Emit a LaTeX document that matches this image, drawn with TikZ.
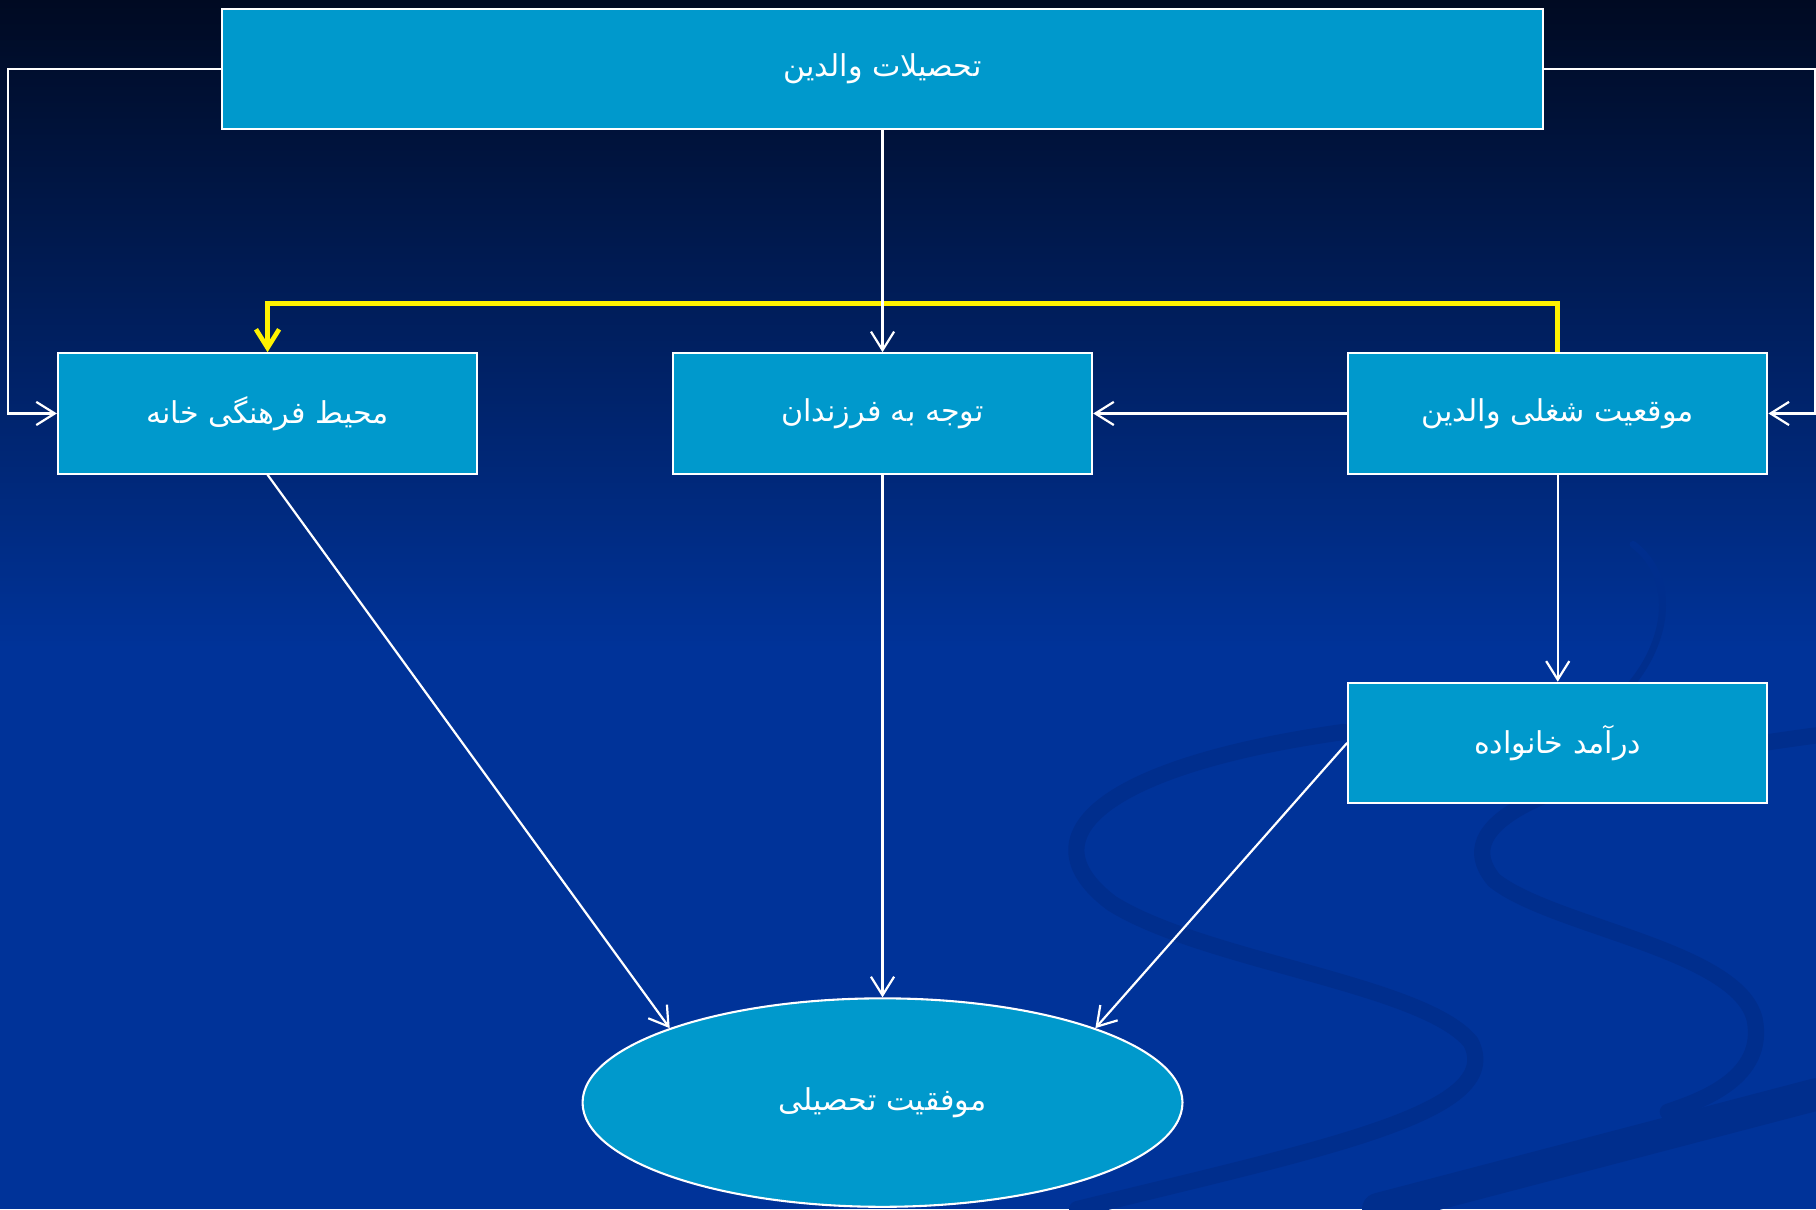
\documentclass[tikz,border=0pt]{standalone}
\usepackage{fontspec}
\newfontfamily\farsi[Script=Arabic]{DejaVu Sans}
\TeXXeTstate=1
\usetikzlibrary{shapes.geometric,arrows.meta}
\definecolor{boxblue}{RGB}{0,153,204}
\definecolor{deepblue}{RGB}{0,51,153}
\definecolor{nightblue}{RGB}{0,10,34}
\definecolor{swirlblue}{RGB}{0,46,141}
\tikzset{
	factor/.style={draw=white,line width=0.9pt,fill=boxblue,text=white,minimum width=181pt,minimum height=52pt,font=\farsi\fontsize{13}{15}\selectfont},
	link/.style={draw=white,line width=0.95pt,-{Straight Barb[length=8pt,width=10pt]}},
	jobline/.style={draw=yellow,line width=2pt,-{Straight Barb[length=8pt,width=10pt]}},
	swirl/.style={draw=swirlblue,line cap=round}
}

\begin{document}
\begin{tikzpicture}[x=0.5pt,y=-0.5pt]
			\shade[top color=nightblue,bottom color=deepblue] (0,0) rectangle (1568,560);
			\fill[deepblue] (0,559) rectangle (1568,1044);
			\useasboundingbox (0,0) rectangle (1568,1044);
			\draw[swirl,line width=7pt] (1160,632) .. controls (960,660) and (880,720) .. (960,780) .. controls (1040,830) and (1230,850) .. (1270,900) .. controls (1300,960) and (1150,990) .. (930,1044);
			\draw[swirl,line width=7pt] (1568,635) .. controls (1380,660) and (1240,700) .. (1290,760) .. controls (1340,800) and (1500,820) .. (1515,880) .. controls (1525,930) and (1470,950) .. (1440,960);
			\draw[swirl,line width=3pt] (1410,470) .. controls (1450,500) and (1440,560) .. (1400,600);
			\draw[swirl,line width=14pt] (1568,945) -- (1190,1044);
			\node[factor,minimum width=570pt,minimum height=51.5pt] (edu) at (762,59.5) {\beginR تحصیلات والدین\endR};
			\node[factor] (home) at (231,357) {\beginR محیط فرهنگی خانه\endR};
			\node[factor] (care) at (762,357) {\beginR توجه به فرزندان\endR};
			\node[factor] (job) at (1345,357) {\beginR موقعیت شغلی والدین\endR};
			\node[factor] (income) at (1345,641.5) {\beginR درآمد خانواده\endR};
			\node[factor,ellipse,minimum width=259pt,minimum height=90pt] (success) at (762,952) {\beginR موفقیت تحصیلی\endR};
			\draw[link] (edu.west) -- ++(-184,0) |- (home.west);
			\draw[link] (edu.east) -- ++(234,0) |- (job.east);
			\draw[jobline] (job.north) -- ++(0,-42) -| (home.north);
			\path
			(edu) edge[link] (care)
			(job) edge[link] (care)
			(job) edge[link] (income)
			(home.south) edge[link] (success.north west)
			(care) edge[link] (success)
			(income.west) edge[link] (success.north east);
		\end{tikzpicture}
\end{document}
